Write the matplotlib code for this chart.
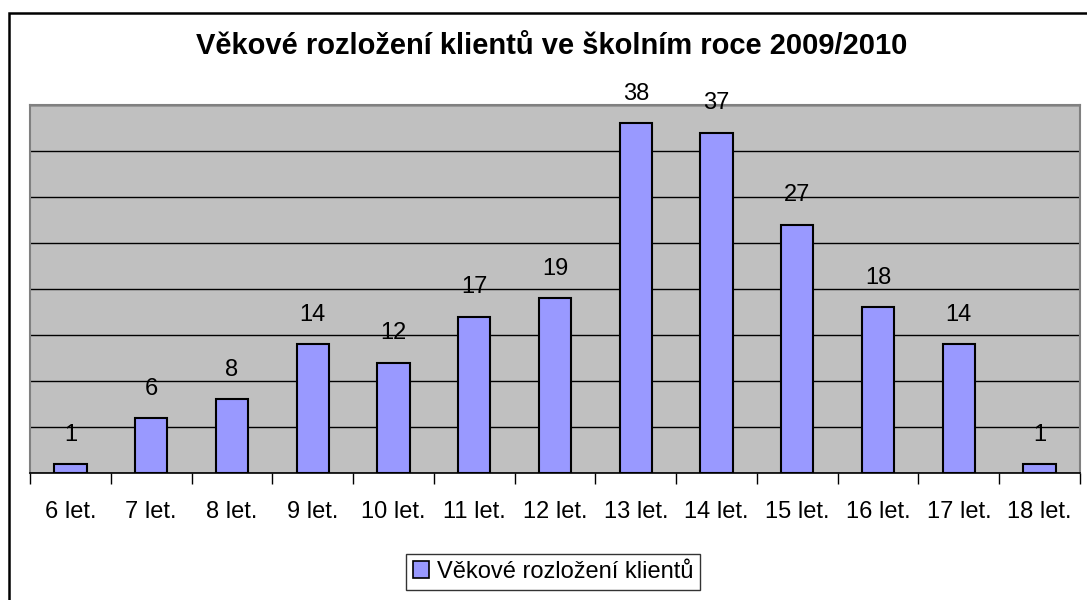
import matplotlib
matplotlib.use("Agg")
import matplotlib.pyplot as plt
from matplotlib.patches import Rectangle, Patch

categories = ["6 let.", "7 let.", "8 let.", "9 let.", "10 let.", "11 let.", "12 let.",
              "13 let.", "14 let.", "15 let.", "16 let.", "17 let.", "18 let."]
values = [1, 6, 8, 14, 12, 17, 19, 38, 37, 27, 18, 14, 1]
title = "Věkové rozložení klientů ve školním roce 2009/2010"
series_name = "Věkové rozložení klientů"

plt.rcParams['font.family'] = ['Liberation Sans', 'DejaVu Sans']

W, H = 1087, 600
fig = plt.figure(figsize=(W / 100, H / 100), dpi=100)

# outer frame (left and top edges visible)
fig.patches.append(Rectangle((9 / W, -0.1), 1.2, (H - 13) / H + 0.1,
                             transform=fig.transFigure, fill=False,
                             edgecolor='black', linewidth=1.8, zorder=0))

ax = fig.add_axes([30 / W, (H - 473) / H, (1080 - 30) / W, (473 - 105) / H])
ax.set_facecolor('#c0c0c0')
x = list(range(len(categories)))
bars = ax.bar(x, values, width=0.4, color='#9999ff', edgecolor='black',
              linewidth=1.5, zorder=3)
ax.set_xlim(-0.5, len(categories) - 0.5)
ax.set_ylim(0, 40)
ax.set_yticks(range(0, 41, 5))
ax.yaxis.grid(True, color='black', linewidth=1)
ax.set_axisbelow(True)
ax.tick_params(axis='y', left=False, labelleft=False)

ax.set_xticks(x)
ax.set_xticklabels(categories, fontsize=17)
ax.set_xticks([i - 0.5 for i in range(len(categories) + 1)], minor=True)
ax.tick_params(axis='x', which='major', length=0, pad=20)
ax.tick_params(axis='x', which='minor', length=8, width=1, color='black')

for s in ['top', 'left', 'right']:
    ax.spines[s].set_color('#808080')
    ax.spines[s].set_linewidth(1.5)
ax.spines['bottom'].set_color('black')
ax.spines['bottom'].set_linewidth(1.2)

for xi, v in zip(x, values):
    ax.annotate(str(v), (xi, v), xytext=(0, 21), textcoords='offset points',
                ha='center', va='center', fontsize=17, zorder=4,
                annotation_clip=False)

fig.text(552 / W, 1 - 46 / H, title, ha='center', va='center',
         fontsize=21, fontweight='bold')

leg = fig.legend([Patch(facecolor='#9999ff', edgecolor='black', linewidth=1.2)],
                 [series_name], loc='center', bbox_to_anchor=(553 / W, 1 - 572 / H),
                 fontsize=17, frameon=True, fancybox=False, edgecolor='black',
                 handlelength=0.7, handleheight=0.7, handletextpad=0.3,
                 borderpad=0.3, borderaxespad=0)
leg.get_frame().set_linewidth(1)

fig.savefig("out.png", dpi=100, facecolor='white')
